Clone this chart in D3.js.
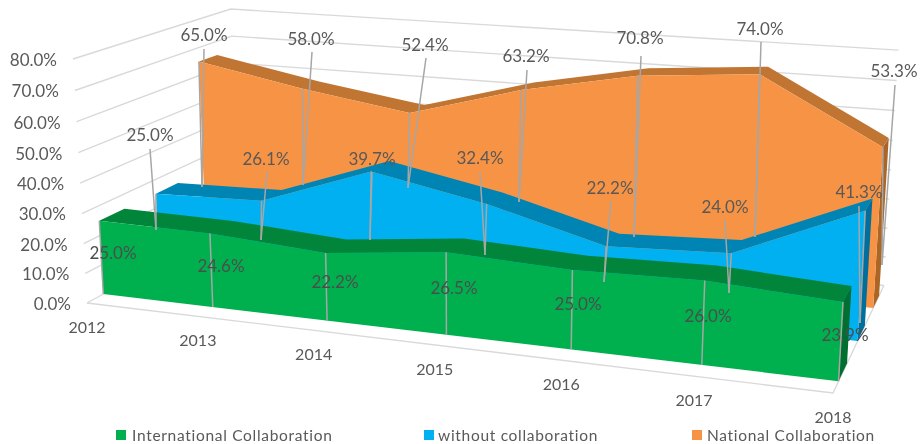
<!DOCTYPE html>
<html><head><meta charset="utf-8">
<script src="https://cdnjs.cloudflare.com/ajax/libs/d3/7.8.5/d3.min.js"></script>
<style>html,body{margin:0;padding:0;background:#fff}svg{display:block;filter:blur(.45px)}text{font-family:Lato,"Open Sans",sans-serif}</style>
</head><body><svg id="c" width="921" height="444"></svg>
<script>
// ---- data ----
const years = ["2012","2013","2014","2015","2016","2017","2018"];
const international = [25.0,24.6,22.2,26.5,25.0,26.0,23.9];
const without = [25.0,26.1,39.7,32.4,22.2,24.0,41.3];
const national = [65.0,58.0,52.4,63.2,70.8,74.0,53.3];
const yTicks = [0,10,20,30,40,50,60,70,80];
const seriesNames = ["International Collaboration","without collaboration","National Collaboration"];

// ---- layout: data-label centres and leader-line ends ----
const intlLabelXY = [[113,253],[221,266],[335,282],[454,288],[578,304],[708,316],[845,335]];
const withoutLabelXY = [[150,135],[266,159],[372,159],[480,158],[610,188],[725,207],[859,192]];
const nationalLabelXY = [[204,35],[311,39],[425,45],[526,56],[640,38],[760,29],[894,71]];
const withoutLeaderStart = [[150,149],[267,172],[372,172],[480,172],[611,201],[725,220],[859,206]];
const withoutLeaderEnd = [[156,230],[261,240],[370,240],[485,255],[604,282],[729,293],[860,323]];
const nationalLeaderStart = [[204,49],[312,52],[426,58],[527,70],[641,56],[761,42],[895,85]];
const nationalLeaderEnd = [[202,187],[303,185],[408,188],[519,202],[634,237],[755,237],[882,265]];

// ---- 3D perspective model ----
const tScale = d3.scaleLinear().domain([0,years.length-1]).range([0,1]);
const vScale = d3.scaleLinear().domain([0,80]).range([0,1]);
const A=[87,303], B=[833,393], C=[238,220], E=[73,59];
const a=-0.127, b=0.165, c=-0.0353;
const xt=B.map(p=>p*(1+a)), xd=C.map(p=>p*(1+b)), xv=E.map(p=>p*(1+c));
function project(i,d,val){
  const t=tScale(i), v=vScale(val), w=1+a*t+b*d+c*v;
  const f=k=>(A[k]+(xt[k]-A[k])*t+(xd[k]-A[k])*d+(xv[k]-A[k])*v)/w;
  return [f(0),f(1)];
}
const svg=d3.select("#c");
const line=d3.line();
const last=years.length-1, idx=d3.range(years.length);
const grid="#d9d9d9", txt="#595959";

// walls and floor
const g0=svg.append("g").attr("fill","none").attr("stroke",grid).attr("stroke-width",1.4);
yTicks.forEach(v=>{
  g0.append("path").attr("d",line([project(0,0,v),project(0,1,v),project(last,1,v)]));
});
g0.append("path").attr("d",line([project(0,0,0),project(last,0,0),project(last,1,0)]));

// areas, back to front
const depthNational=[.76,.89], depthWithout=[.44,.585], depthIntl=[.094,.243];
const series=[
 {vals:national,d:depthNational,front:"#f79344",top:"#c17533",side:"#ab6626"},
 {vals:without, d:depthWithout,front:"#00b0f0",top:"#0084b4",side:"#006f9e"},
 {vals:international,d:depthIntl,front:"#00b04f",top:"#00853a",side:"#006f30"}
];
series.forEach(s=>{
  const [d0,d1]=s.d, g=svg.append("g");
  g.append("path").attr("fill",s.side).attr("d",line([project(last,d0,0),project(last,d1,0),project(last,d1,s.vals[last]),project(last,d0,s.vals[last])])+"Z");
  const f=idx.map(i=>project(i,d0,s.vals[i])), k=idx.map(i=>project(i,d1,s.vals[i]));
  g.append("path").attr("fill",s.top).attr("d",line(f.concat(k.slice().reverse()))+"Z");
  g.append("path").attr("fill",s.front).attr("d",line([project(0,d0,0)].concat(f,[project(last,d0,0)]))+"Z");
});

// drop and leader lines
const lg=svg.append("g").attr("fill","none").attr("stroke","#a6a6a6").attr("stroke-width",1.5);
idx.forEach(i=>{
  lg.append("path").attr("d",line([project(i,depthNational[0],national[i]),nationalLeaderEnd[i]]));
  lg.append("path").attr("d",line([nationalLeaderStart[i],nationalLeaderEnd[i]]));
  lg.append("path").attr("d",line([project(i,depthWithout[0],without[i]),withoutLeaderEnd[i]]));
  lg.append("path").attr("d",line([withoutLeaderStart[i],withoutLeaderEnd[i]]));
  lg.append("path").attr("d",line([project(i,depthIntl[0],international[i]),project(i,depthIntl[0],0)]));
});

// axis labels
const fmt=d3.format(".1f");
svg.append("g").selectAll("text").data(yTicks).join("text")
  .attr("x",d=>project(0,0,d)[0]-16).attr("y",d=>project(0,0,d)[1]+1).attr("dy",".35em")
  .attr("text-anchor","end").attr("font-size",17).attr("fill",txt).text(d=>fmt(d)+"%");
svg.append("g").selectAll("text").data(years).join("text")
  .attr("x",(d,i)=>project(i,0,0)[0]).attr("y",(d,i)=>project(i,0,0)[1]+24).attr("dy",".35em")
  .attr("text-anchor","middle").attr("font-size",16).attr("fill",txt).text(d=>d);

// data labels
function labels(vals,xy,col){
  svg.append("g").selectAll("text").data(vals).join("text")
    .attr("x",(d,i)=>xy[i][0]).attr("y",(d,i)=>xy[i][1]).attr("dy",".35em")
    .attr("text-anchor","middle").attr("font-size",17).attr("fill",col).text(d=>fmt(d)+"%");
}
labels(national,nationalLabelXY,txt);
labels(without,withoutLabelXY,txt);
labels(international,intlLabelXY,"#4a4f4c");

// legend
const legendX=[116,424,692], legendTextX=[132,438,707], legendColor=["#00b04f","#00b0f0","#f79344"];
const lgd=svg.append("g");
seriesNames.forEach((n,i)=>{
  lgd.append("rect").attr("x",legendX[i]).attr("y",430).attr("width",10).attr("height",10).attr("fill",legendColor[i]);
  lgd.append("text").attr("x",legendTextX[i]).attr("y",435.2).attr("dy",".35em").attr("font-size",15.5).attr("letter-spacing",".7").attr("fill",txt).text(n);
});
</script></body></html>
